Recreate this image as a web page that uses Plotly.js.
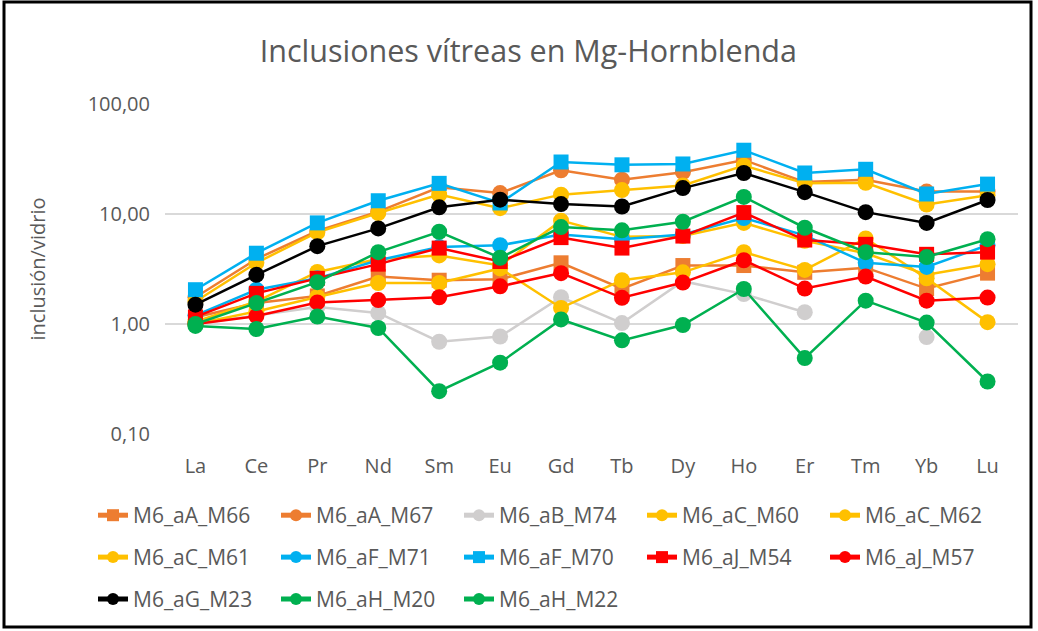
<!DOCTYPE html>
<html>
<head>
<meta charset="utf-8">
<script src="https://cdn.plot.ly/plotly-3.0.1.min.js"></script>
<style>html,body{margin:0;padding:0;background:#fff;}#chart{width:1038px;height:631px;}</style>
</head>
<body>
<div id="chart"></div>
<script>
const categories = ['La','Ce','Pr','Nd','Sm','Eu','Gd','Tb','Dy','Ho','Er','Tm','Yb','Lu'];

const M6_aA_M66 = [1.15, 1.55, 1.8, 2.7, 2.5, 2.55, 3.6, 2.1, 3.4, 3.4, 2.95, 3.25, 2.1, 2.9];
const M6_aA_M67 = [1.75, 3.9, 7.0, 10.5, 17.5, 15.5, 25, 20.5, 24, 31, 19.5, 20.5, 16, 16];
const M6_aB_M74 = [1.0, 1.2, 1.43, 1.26, 0.69, 0.77, 1.75, 1.02, 2.45, 1.87, 1.28, null, 0.76, null];
const M6_aC_M60 = [1.6, 3.6, 6.8, 10.2, 15, 11.3, 15, 16.5, 18.2, 27.5, 19, 19.2, 12.2, 14.8];
const M6_aC_M62 = [1.05, 1.6, 2.97, 3.9, 4.2, 3.4, 8.7, 6.2, 6.3, 8.3, 5.7, 4.4, 2.8, 3.5];
const M6_aC_M61 = [1.0, 1.3, 1.76, 2.36, 2.36, 3.2, 1.4, 2.5, 2.95, 4.5, 3.1, 6.0, 2.6, 1.04];
const M6_aF_M71 = [1.2, 2.05, 2.6, 3.8, 5.0, 5.2, 6.5, 5.9, 6.5, 9.2, 6.4, 3.6, 3.3, 5.2];
const M6_aF_M70 = [2.05, 4.4, 8.3, 13.2, 19, 12.6, 29.7, 28, 28.5, 38, 23.6, 25.5, 15.2, 18.7];
const M6_aJ_M54 = [1.16, 1.9, 2.6, 3.5, 4.9, 3.7, 6.1, 4.9, 6.3, 10.3, 5.8, 5.3, 4.3, 4.5];
const M6_aJ_M57 = [1.0, 1.18, 1.57, 1.65, 1.75, 2.2, 2.9, 1.73, 2.38, 3.8, 2.1, 2.7, 1.63, 1.74];
const M6_aG_M23 = [1.5, 2.8, 5.1, 7.4, 11.5, 13.5, 12.3, 11.7, 17.2, 23.6, 15.8, 10.4, 8.3, 13.4];
const M6_aH_M20 = [1.0, 1.55, 2.4, 4.5, 6.9, 4.0, 7.6, 7.1, 8.5, 14.3, 7.5, 4.5, 4.06, 5.9];
const M6_aH_M22 = [0.96, 0.9, 1.17, 0.92, 0.245, 0.445, 1.1, 0.71, 0.98, 2.08, 0.49, 1.63, 1.03, 0.30];

const yTickVals = [0.1, 1, 10, 100];
const yTickText = ['0,10', '1,00', '10,00', '100,00'];

const ORANGE = '#ED7D31', GRAY = '#D0CECE', YELLOW = '#FFC000', BLUE = '#00B0F0',
      RED = '#FF0000', BLACK = '#000000', GREEN = '#00B050';

function tr(name, y, color, symbol, legend) {
  return {
    type: 'scatter', mode: 'lines+markers', name: name, x: categories, y: y,
    line: {color: color, width: 2.5},
    marker: {color: color, symbol: symbol, size: symbol === 'square' ? 15 : 16},
    legend: legend, connectgaps: false
  };
}

const data = [
  tr('M6_aA_M66', M6_aA_M66, ORANGE, 'square', 'legend'),
  tr('M6_aA_M67', M6_aA_M67, ORANGE, 'circle', 'legend'),
  tr('M6_aB_M74', M6_aB_M74, GRAY, 'circle', 'legend'),
  tr('M6_aC_M60', M6_aC_M60, YELLOW, 'circle', 'legend'),
  tr('M6_aC_M62', M6_aC_M62, YELLOW, 'circle', 'legend'),
  tr('M6_aC_M61', M6_aC_M61, YELLOW, 'circle', 'legend2'),
  tr('M6_aF_M71', M6_aF_M71, BLUE, 'circle', 'legend2'),
  tr('M6_aF_M70', M6_aF_M70, BLUE, 'square', 'legend2'),
  tr('M6_aJ_M54', M6_aJ_M54, RED, 'square', 'legend2'),
  tr('M6_aJ_M57', M6_aJ_M57, RED, 'circle', 'legend2'),
  tr('M6_aG_M23', M6_aG_M23, BLACK, 'circle', 'legend3'),
  tr('M6_aH_M20', M6_aH_M20, GREEN, 'circle', 'legend3'),
  tr('M6_aH_M22', M6_aH_M22, GREEN, 'circle', 'legend3')
];

const FONT = 'Open Sans, Noto Sans, sans-serif';
const TXT = '#595959';
const legendBase = {
  orientation: 'h', xanchor: 'left', yanchor: 'top', x: -0.0844,
  entrywidth: 138, entrywidthmode: 'pixels', itemsizing: 'constant',
  font: {family: FONT, size: 21, color: TXT}, bgcolor: 'rgba(0,0,0,0)', traceorder: 'normal'
};

const layout = {
  width: 1038, height: 631,
  margin: {l: 165, r: 20, t: 104, b: 197, autoexpand: false},
  paper_bgcolor: '#ffffff', plot_bgcolor: '#ffffff',
  font: {family: FONT, color: TXT},
  title: {text: 'Inclusiones vítreas en Mg-Hornblenda', font: {family: FONT, size: 30.5, color: TXT},
          x: 0.509, xref: 'container', xanchor: 'center', y: 0.918, yref: 'container', yanchor: 'middle'},
  xaxis: {type: 'category', range: [-0.5, 13.5], showgrid: false, zeroline: false, showline: false,
          ticks: '', ticklabelstandoff: 18, tickfont: {family: FONT, size: 20, color: TXT}, fixedrange: true},
  yaxis: {type: 'log', range: [-1, 2], tickvals: yTickVals, ticktext: yTickText,
          showgrid: true, gridcolor: '#D9D9D9', gridwidth: 1.5, zeroline: false, showline: false,
          ticks: '', ticklabelstandoff: 14, tickfont: {family: FONT, size: 20, color: TXT},
          title: {text: 'inclusión/vidrio', font: {family: FONT, size: 20, color: TXT}, standoff: 36},
          fixedrange: true},
  showlegend: true,
  legend: Object.assign({}, legendBase, {y: -0.185}),
  legend2: Object.assign({}, legendBase, {y: -0.312}),
  legend3: Object.assign({}, legendBase, {y: -0.439}),
  shapes: [{type: 'rect', xref: 'paper', yref: 'paper',
            x0: (4 - 165) / 853, x1: (1031 - 165) / 853, y0: (434 - 627) / 330, y1: (434 - 2) / 330,
            line: {color: '#000000', width: 3}, fillcolor: 'rgba(0,0,0,0)', layer: 'above'}]
};

Plotly.newPlot('chart', data, layout, {displayModeBar: false, staticPlot: true});
</script>
</body>
</html>
